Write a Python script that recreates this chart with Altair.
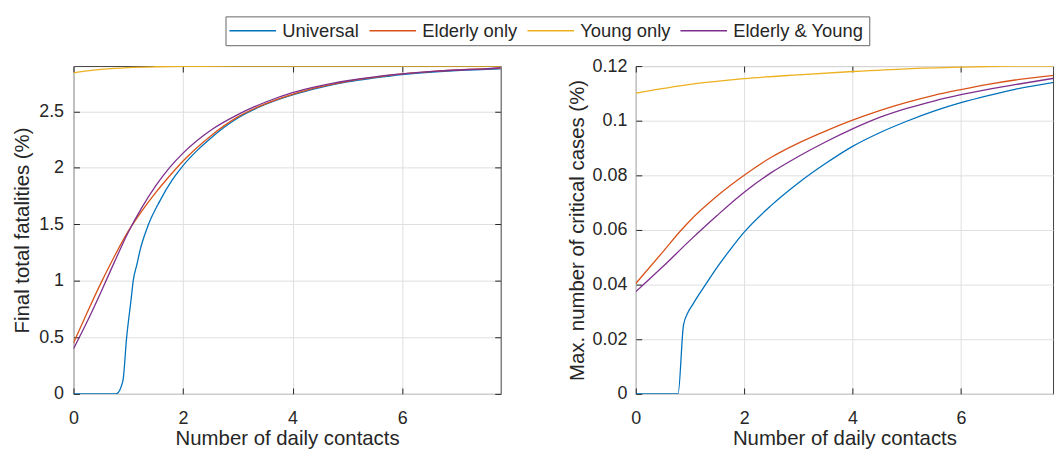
import altair as alt
import pandas as pd

series = ["Universal", "Elderly only", "Young only", "Elderly & Young"]
colors = ["#0072BD", "#D95319", "#EDB120", "#7E2F8E"]

x_ticks = [0, 2, 4, 6]
fat_ticks = [0, 0.5, 1, 1.5, 2, 2.5]
crit_ticks = [0, 0.02, 0.04, 0.06, 0.08, 0.1, 0.12]

# ---- Left panel: final total fatalities (%) ----
fat_uni_x = [0, 0.78, 0.9, 0.97, 1.05, 1.09, 1.16, 1.21, 1.37, 1.58, 1.8, 2.0, 2.25, 2.5,
             3.0, 3.5, 4.0, 4.5, 5.0, 5.5, 6.0, 7.0, 7.8]
fat_uni_y = [0, 0, 0.11, 0.5, 0.83, 1.0, 1.15, 1.26, 1.5, 1.71, 1.89, 2.02, 2.15, 2.26,
             2.44, 2.56, 2.645, 2.71, 2.76, 2.795, 2.825, 2.86, 2.875]

fat_eld_x = [0, 0.25, 0.5, 0.75, 1.0, 1.25, 1.5, 1.75, 2.0, 2.5, 3.0, 3.5, 4.0, 4.5,
             5.0, 5.5, 6.0, 6.5, 7.0, 7.5, 7.8]
fat_eld_y = [0.45, 0.72, 0.98, 1.22, 1.44, 1.62, 1.78, 1.925, 2.06, 2.28, 2.45, 2.565, 2.65,
             2.715, 2.765, 2.80, 2.83, 2.85, 2.865, 2.875, 2.88]

fat_yng_x = [0, 0.25, 0.5, 0.75, 1.0, 1.5, 2.0, 3.0, 4.0, 7.8]
fat_yng_y = [2.84, 2.857, 2.87, 2.88, 2.887, 2.894, 2.897, 2.899, 2.9, 2.9]

fat_ey_x = [0, 0.25, 0.5, 0.75, 1.0, 1.25, 1.5, 1.75, 2.0, 2.5, 3.0, 3.5, 4.0, 4.5,
            5.0, 5.5, 6.0, 6.5, 7.0, 7.5, 7.8]
fat_ey_y = [0.40, 0.64, 0.90, 1.17, 1.43, 1.65, 1.84, 2.00, 2.13, 2.33, 2.47, 2.58, 2.665,
            2.725, 2.77, 2.805, 2.83, 2.85, 2.865, 2.875, 2.885]

# ---- Right panel: max. number of critical cases (%) ----
cr_uni_x = [0, 0.78, 0.88, 0.96, 1.05, 1.2, 1.36, 1.5, 1.75, 2.0, 2.5, 3.0, 3.5, 4.0, 4.5,
            5.0, 5.5, 6.0, 6.5, 7.0, 7.8]
cr_uni_y = [0, 0, 0.0252, 0.0297, 0.0327, 0.0374, 0.0422, 0.0463, 0.0530, 0.0592, 0.0690,
            0.0772, 0.0843, 0.0906, 0.0956, 0.0998, 0.1035, 0.1066, 0.1092, 0.1115, 0.1143]

cr_eld_x = [0, 0.5, 0.84, 1.0, 1.5, 2.0, 2.5, 3.0, 3.5, 4.0, 4.5, 5.0, 5.5, 6.0,
            6.5, 7.0, 7.8]
cr_eld_y = [0.0404, 0.0520, 0.060, 0.0634, 0.0724, 0.0800, 0.0866, 0.0918, 0.0962, 0.1002,
            0.1037, 0.1067, 0.1093, 0.1114, 0.1133, 0.1149, 0.1168]

cr_yng_x = [0, 1, 2, 3, 4, 5, 6, 7, 7.8]
cr_yng_y = [0.1101, 0.1133, 0.1154, 0.1168, 0.118, 0.119, 0.1196, 0.12, 0.12]

cr_ey_x = [0, 0.5, 1.0, 1.5, 2.0, 2.5, 3.0, 3.5, 4.0, 4.5, 5.0, 5.5, 6.0,
           6.5, 7.0, 7.8]
cr_ey_y = [0.0374, 0.0466, 0.0562, 0.0653, 0.0738, 0.0810, 0.0869, 0.0922, 0.0970, 0.1012,
           0.1045, 0.1072, 0.1095, 0.1115, 0.1132, 0.1158]


def build(xs_list, ys_list):
    rows = []
    for name, xs, ys in zip(series, xs_list, ys_list):
        for i, (x, y) in enumerate(zip(xs, ys)):
            rows.append({"series": name, "x": x, "y": y, "i": i})
    return pd.DataFrame(rows)


fat_df = build([fat_uni_x, fat_eld_x, fat_yng_x, fat_ey_x],
               [fat_uni_y, fat_eld_y, fat_yng_y, fat_ey_y])
cr_df = build([cr_uni_x, cr_eld_x, cr_yng_x, cr_ey_x],
              [cr_uni_y, cr_eld_y, cr_yng_y, cr_ey_y])

FONT = "Liberation Sans"
TXT = "#262626"

color = alt.Color(
    "series:N",
    scale=alt.Scale(domain=series, range=colors),
    legend=alt.Legend(
        orient="none", legendX=153, legendY=-50, direction="horizontal",
        title=None, symbolType="M-2.2,0H7.8", symbolSize=88, symbolStrokeWidth=1.5,
        labelFontSize=18.5, labelFont=FONT, labelColor=TXT, labelOffset=33.6,
        columnPadding=6, padding=5, strokeColor="#666666", fillColor="white",
    ),
)


def panel(df, xmax, width, ydom, yticks, ytitle, ytitle_x, ylabel_pad, mirror_right):
    base = alt.Chart(df)
    lines = base.mark_line(strokeWidth=1.3, interpolate="monotone", clip=True).encode(
        x=alt.X("x:Q", scale=alt.Scale(domain=[0, xmax], nice=False, zero=False),
                axis=alt.Axis(values=x_ticks, title="Number of daily contacts",
                              offset=-6, tickSize=6, labelPadding=16, labelFlush=False,
                              titleY=57, titleBaseline="alphabetic", domain=False)),
        y=alt.Y("y:Q", scale=alt.Scale(domain=ydom, nice=False),
                axis=alt.Axis(values=yticks, labelExpr="format(datum.value, '~g')",
                              title=ytitle, offset=-6, tickSize=6, labelPadding=ylabel_pad,
                              labelFlush=False, titleX=ytitle_x, titleBaseline="middle",
                              domain=False)),
        color=color,
        order="i:Q",
    )
    if mirror_right:
        yax = alt.Y("y:Q", axis=alt.Axis(orient="right", values=yticks, labels=False,
                                         title=None, grid=False, domain=False,
                                         offset=-6, tickSize=6))
    else:
        yax = alt.Y("y:Q", axis=None)
    mirror = base.mark_line(opacity=0).encode(
        x=alt.X("x:Q", axis=alt.Axis(orient="top", values=x_ticks, labels=False,
                                     title=None, grid=False, domain=False,
                                     offset=-6, tickSize=6)),
        y=yax,
        detail="series:N",
    )
    return alt.layer(lines, mirror).resolve_axis(x="independent", y="independent").properties(
        width=width, height=330)


left = panel(fat_df, 7.8, 430, [0, 2.9], fat_ticks, "Final total fatalities (%)", -57, 10, True)
right = panel(cr_df, 7.7, 420, [0, 0.12], crit_ticks, "Max. number of critical cases (%)", -65, 9, False)

chart = alt.hconcat(left, right, spacing=136, bounds="flush").properties(
    padding={"left": 12, "top": 14, "right": 0, "bottom": 0}
).configure(font=FONT).configure_axis(
    labelFont=FONT, labelFontSize=18, labelColor=TXT,
    titleFont=FONT, titleFontSize=20.5, titleFontWeight="normal", titleColor=TXT,
    tickColor=TXT, tickWidth=1, gridColor="#dfdfdf", gridWidth=1,
).configure_view(stroke="#404040", strokeWidth=1)

chart.save("out.html", embed_options={"renderer": "svg", "actions": False})
